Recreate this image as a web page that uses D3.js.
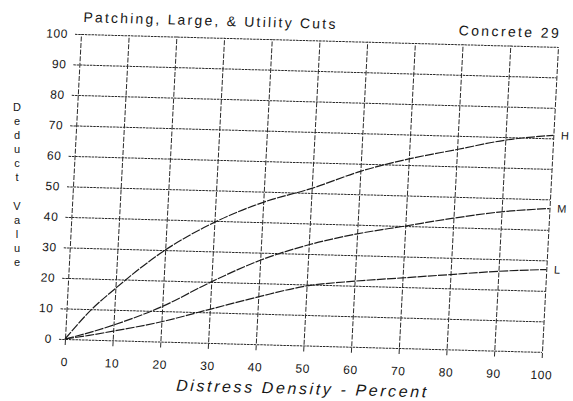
<!DOCTYPE html>
<html>
<head>
<meta charset="utf-8">
<script src="https://cdn.jsdelivr.net/npm/d3@7"></script>
<style>
  html, body { margin: 0; padding: 0; background: #ffffff; }
  svg { display: block; }
  text { fill: #161616; font-family: "Liberation Sans", Arial, sans-serif; }
</style>
</head>
<body>
<svg id="chart" width="573" height="401"></svg>
<script>
// Deduct value curves for concrete distress 29 (patching, large, & utility cuts)
const density = [0, 5, 10, 20, 30, 40, 50, 60, 70, 80, 90, 100];
const highSeverity   = [0, 9.5, 17, 30, 39.5, 46.5, 51.5, 57.5, 62, 65.5, 69, 71];
const mediumSeverity = [0, 2.3, 5, 11.5, 20, 27.5, 33, 37, 40, 43, 45.5, 47];
const lowSeverity    = [0, 1.4, 3, 6.5, 11, 15.5, 19.5, 21.5, 23, 24.5, 26, 27];
const severityNames  = ["H", "M", "L"];
const densityTicks = [0, 10, 20, 30, 40, 50, 60, 70, 80, 90, 100];
const deductTicks  = [0, 10, 20, 30, 40, 50, 60, 70, 80, 90, 100];
const titleText  = "Patching, Large, & Utility Cuts";
const sheetText  = "Concrete 29";
const xTitleText = "Distress Density - Percent";
const yTitleText = "Deduct Value";

const W = 477, H = 305;
const svg = d3.select("#chart");

// the printed sheet sits slightly askew on the page
const g = svg.append("g")
  .attr("transform", "matrix(1,0.027,-0.0525,1,81,34)");

const x = d3.scaleLinear().domain([0, 100]).range([0, W]);
const y = d3.scaleLinear().domain([0, 100]).range([H, 0]);

// horizontal grid + deduct value labels
const yAxis = g.append("g")
  .attr("transform", "translate(-6,0)")
  .call(d3.axisLeft(y).tickValues(deductTicks).tickSize(-(W + 6)).tickPadding(7)
    .tickFormat(d3.format("d")));
yAxis.select(".domain").remove();
yAxis.selectAll(".tick line")
  .attr("stroke", "#2a2a2a").attr("stroke-width", 1)
  .attr("stroke-dasharray", "2.5,0.8");
yAxis.selectAll(".tick text")
  .attr("font-size", 12).attr("fill", "#161616")
  .attr("letter-spacing", 0.6);

// vertical grid + density labels
const xAxis = g.append("g")
  .attr("transform", `translate(0,${H + 6})`)
  .call(d3.axisBottom(x).tickValues(densityTicks).tickSize(-(H + 6)).tickPadding(0)
    .tickFormat(d3.format("d")));
xAxis.select(".domain").remove();
xAxis.selectAll(".tick line")
  .attr("stroke", "#2a2a2a").attr("stroke-width", 1)
  .attr("stroke-dasharray", "5,1.6");
xAxis.selectAll(".tick text")
  .attr("font-size", 12).attr("fill", "#161616")
  .attr("y", 17).attr("dy", "0.35em")
  .attr("letter-spacing", 0.6);

// severity curves
const line = d3.line()
  .x((d, i) => x(density[i]))
  .y(d => y(d))
  .curve(d3.curveMonotoneX);

const seriesList = [highSeverity, mediumSeverity, lowSeverity];
g.selectAll("path.curve")
  .data(seriesList)
  .join("path")
  .attr("class", "curve")
  .attr("d", line)
  .attr("fill", "none")
  .attr("stroke", "#1c1c1c")
  .attr("stroke-width", 1.2)
  .attr("stroke-dasharray", "9,1.2");

// severity level labels at the right end of each curve
g.selectAll("text.sev")
  .data(seriesList)
  .join("text")
  .attr("class", "sev")
  .attr("x", x(101.6))
  .attr("y", d => y(d[d.length - 1]))
  .attr("dy", "0.35em")
  .attr("font-size", 11)
  .attr("font-family", "'DejaVu Sans', sans-serif")
  .text((d, i) => severityNames[i]);

// headings
g.append("text")
  .attr("x", 1.5).attr("y", -12)
  .attr("font-size", 14)
  .attr("textLength", 252).attr("lengthAdjust", "spacing")
  .text(titleText);

g.append("text")
  .attr("x", W).attr("y", -9)
  .attr("text-anchor", "end")
  .attr("font-size", 14)
  .attr("textLength", 100).attr("lengthAdjust", "spacing")
  .text(sheetText);

g.append("text")
  .attr("x", W / 2).attr("y", H + 43)
  .attr("dy", "0.35em")
  .attr("text-anchor", "middle")
  .attr("font-size", 16)
  .attr("font-style", "italic")
  .attr("textLength", 250).attr("lengthAdjust", "spacing")
  .text(xTitleText);

// y title, one letter per line
const yLetters = yTitleText.split("");
svg.append("g")
  .selectAll("text")
  .data(yLetters)
  .join("text")
  .attr("x", 17)
  .attr("y", (d, i) => 107 + i * 14.1)
  .attr("dy", "0.35em")
  .attr("text-anchor", "middle")
  .attr("font-size", 11)
  .text(d => d);
</script>
</body>
</html>
